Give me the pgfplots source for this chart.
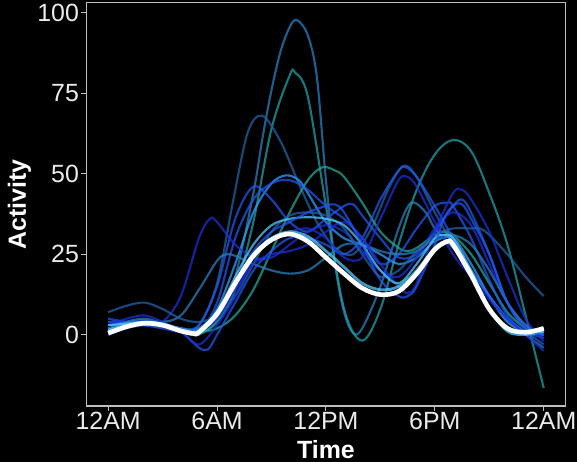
\documentclass[border=0pt]{standalone}
\usepackage{pgfplots}
\pgfplotsset{compat=1.18}
\usepackage{fontspec}
\setmainfont{Liberation Sans}
\definecolor{cteal}{HTML}{20A0A8}
\definecolor{cgteal}{HTML}{25A898}
\definecolor{csteel}{HTML}{2A80C0}
\definecolor{cblue}{HTML}{2058F0}
\definecolor{clight}{HTML}{30A0FF}
\definecolor{cdeep}{HTML}{1A30D8}
\definecolor{ccyan}{HTML}{55CCFF}
\definecolor{cdsteel}{HTML}{2062A8}
\definecolor{axgray}{HTML}{BEBEBE}
\begin{document}
\begin{tikzpicture}
\fill[black] (-86.4bp,-56bp) rectangle (490.6bp,406bp);
\begin{axis}[
  at={(0,0)}, anchor=south west,
  width=479.1bp, height=403.3bp, scale only axis,
  xmin=-1.2, xmax=25.2, ymin=-22.1, ymax=103.1,
  axis background/.style={fill=black},
  axis line style={draw=axgray, line width=1.1bp},
  tick style={draw=axgray, line width=1bp},
  tick align=outside, tick pos=left, major tick length=5bp,
  xtick={0,6,12,18,24}, xticklabels={12AM,6AM,12PM,6PM,12AM},
  ytick={0,25,50,75,100},
  /pgf/number format/assume math mode=true,
  tick label style={font=\fontsize{25}{28}\selectfont, text=white!92!black},
  xticklabel style={yshift=2bp},
  yticklabel style={xshift=1bp},
  xlabel={Time}, ylabel={Activity},
  every axis x label/.style={at={(axis description cs:0.5,0)}, yshift=-44bp, anchor=center, inner sep=0pt, font=\bfseries\fontsize{25}{28}\selectfont, text=white},
  every axis y label/.style={at={(axis description cs:0,0.5)}, xshift=-67bp, rotate=90, anchor=center, inner sep=0pt, font=\bfseries\fontsize{25}{28}\selectfont, text=white},
  every axis plot/.append style={no marks, smooth, tension=0.55, line width=2.1bp, draw opacity=0.75},
]
% 1 peak 97
\addplot[csteel] coordinates {(0,1)(1,3)(2,4)(3,3)(4,1)(5,0)(6,5)(7,18)(8,44)(8.5,61)(9,76)(9.5,88)(10,95.5)(10.4,97.7)(11,93)(11.5,80)(12,48)(12.5,22)(13,7)(13.5,0.5)(14,2)(15,15)(16,33)(16.7,41)(17.5,38)(18,33)(19,27)(20,20)(21,12)(22,5)(23,0)(24,-4)};
% 2 peak 81
\addplot[cteal] coordinates {(0,2)(1,3.5)(2,4)(3,3)(4,1.5)(5,0.5)(6,4)(7,14)(8,35)(9,64)(10,80.5)(10.3,81.4)(11,74)(12,40)(13,8)(14,-1.8)(15,8)(16,28)(17,45)(18,56)(19,60.5)(20,57)(21,44)(22,28)(23,6)(24,-16.5)};
% 3 peak 68
\addplot[cdsteel] coordinates {(0,5)(1,4)(2,4)(3,3)(4,2)(5,3)(6,16)(6.9,42)(7.7,63)(8.5,68)(9.5,60)(10.5,47)(11.5,35)(12.5,27)(13.5,25)(14.5,33)(15.5,46)(16.3,52.5)(17,49)(18,38)(19,28)(20,20)(21,12)(22,5)(23,1)(24,-1)};
% 4 peak 52 at 12
\addplot[cgteal] coordinates {(0,3)(1,3)(2,3)(3,2.5)(4,2)(5,1)(6,2)(7,6)(8,14)(9,26)(10,38)(11,48)(11.8,52)(12.5,51)(13,49)(14,41)(15,32)(16,27)(16.5,26)(17,27)(18,31)(18.5,32)(19,31)(20,25)(21,16)(22,7)(23,2)(24,0)};
% 5 light blue 50
\addplot[clight] coordinates {(0,2)(1,3)(2,4)(3,3)(4,1.5)(5,2)(6,8)(7,22)(8,38)(9,47)(9.8,49.5)(10.5,48)(11,44)(12,35)(13,30)(14,28)(15,25)(16,22)(17,24)(18,29)(19,30)(20,22)(21,12)(22,4)(23,1)(24,1)};
% 6 blue 48
\addplot[cblue] coordinates {(0,3)(1,4)(2,4.5)(3,3)(4,1)(5,1)(6,10)(7,30)(8,42)(9,47)(10,48)(11,45)(12,40)(13,36)(14,30)(15,22)(16,25)(17,33)(18,40)(18.7,41)(19,40)(20,30)(21,17)(22,6)(23,1)(24,2)};
% 7 blue 46 at 8
\addplot[cblue] coordinates {(0,4)(1,4)(2,3)(3,2)(4,1)(5,3)(6,15)(7,36)(8,46)(9,42)(10,35)(11,32)(12,36)(13,40)(13.5,40.5)(14,37)(15,30)(16,24)(17,25)(18,32)(19,40)(19.5,42)(20,38)(21,25)(22,10)(23,2)(24,0)};
% 8 deep 36 at 5.6
\addplot[cdeep] coordinates {(0,5)(1,4)(2,3)(3,4)(4,12)(5,30)(5.6,36)(6,35)(7,28)(8,24)(9,24)(10,28)(11,32)(12,34)(13,32)(14,26)(15,20)(16,18)(17,24)(18,33)(19,38)(20,34)(21,22)(22,10)(23,3)(24,-1)};
% 9 steel 25 at 6.5
\addplot[csteel] coordinates {(0,1)(1,4)(2,5)(3,4)(4,6)(5,14)(6,23)(6.5,25)(7,24.5)(8,22)(9,20)(10,19)(11,20)(12,24)(13,28)(14,28)(15,26)(16,25)(17,26)(18,30)(19,31)(20,28)(21,20)(22,10)(23,3)(24,0)};
% 10 dark steel ends at 12
\addplot[cdsteel] coordinates {(0,7)(1,9)(2,10)(3,8)(4,5)(5,4)(6,6)(7,12)(8,22)(9,32)(10,37)(11,38)(12,37)(13,33)(14,25)(15,18)(16,20)(17,26)(18,31)(19,33)(20,33)(20.5,33)(21,31)(22,25)(23,18)(24,12)};
% 11 blue 52 at 16
\addplot[cblue] coordinates {(0,1)(1,3)(2,4)(3,3)(4,1)(5,-4)(5.5,-4.5)(6,0)(7,10)(8,20)(9,26)(10,30)(11,30)(12,28)(13,25)(14,30)(15,42)(16,51)(16.4,52)(17,49)(18,40)(19,30)(20,20)(21,12)(22,5)(23,1)(24,-3)};
% 12 deep 49 at 16.5
\addplot[cdeep] coordinates {(0,2)(1,3)(2,4)(3,3)(4,1)(5,-3)(6,3)(7,12)(8,24)(9,30)(10,32)(11,33)(12,30)(13,24)(14,24)(15,36)(16,48)(16.5,49)(17,46)(18,35)(19,25)(20,18)(21,11)(22,5)(23,0)(24,-5)};
% 14 deep 45 at 19.5
\addplot[cdeep] coordinates {(0,3)(1,5)(2,6)(3,4)(4,1)(5,1)(6,5)(7,14)(8,22)(9,25)(10,26)(11,28)(12,32)(13,35)(14,30)(15,22)(16,15)(16.5,13)(17,16)(18,32)(19,44)(19.5,45)(20,42)(21,32)(22,18)(23,5)(24,-2)};
% 15 cyan
\addplot[ccyan] coordinates {(0,3)(1,3.5)(2,4)(3,3.5)(4,2)(5,1)(6,7)(7,18)(8,28)(9,34)(10,36)(11,36.5)(12,36)(13,34)(14,28)(15,20)(16,16)(17,22)(18,30)(18.5,31)(19,30)(20,20)(21,8)(22,1)(23,0)(24,1)};
% 16 blue
\addplot[cblue] coordinates {(0,0)(1,2)(2,3)(3,3)(4,2)(5,1)(6,6)(7,16)(8,26)(9,32)(10,35)(11,38)(12,40)(12.5,40.5)(13,38)(14,28)(15,17)(16,12)(16.5,12)(17,15)(18,28)(18.5,36)(19,40)(19.5,40.5)(20,36)(21,25)(22,10)(23,2)(24,0)};
% 17 light cyan near mean
\addplot[ccyan, line width=2.8bp] coordinates {(0,1.5)(1,3)(2,3.8)(3,3.2)(4,1.5)(5,1)(6,7)(7,16)(8,25)(9,30)(10,32)(11,30.5)(12,26)(13,21)(14,16)(15,14)(16,15)(17,20)(18,27)(18.6,29)(19,28.5)(20,19)(21,8)(22,1.5)(23,1)(24,2)};
% mean
\addplot[white, line width=4.6bp, draw opacity=1] coordinates {(0,0.5)(1,2.5)(2,3.6)(3,3)(4,1.2)(4.7,0.4)(5,0.8)(6,6.5)(7,16)(8,24.5)(9,29.5)(10,31.3)(11,29)(12,24)(13,19)(14,14.5)(15,12.5)(16,13.5)(17,19)(18,26.5)(18.7,29)(19,28)(20,18.5)(21,8)(22,2)(23,0.8)(24,2)};
\end{axis}
\pgfresetboundingbox
\path (-86.4bp,-56bp) rectangle (490.6bp,406bp);
\end{tikzpicture}
\end{document}
